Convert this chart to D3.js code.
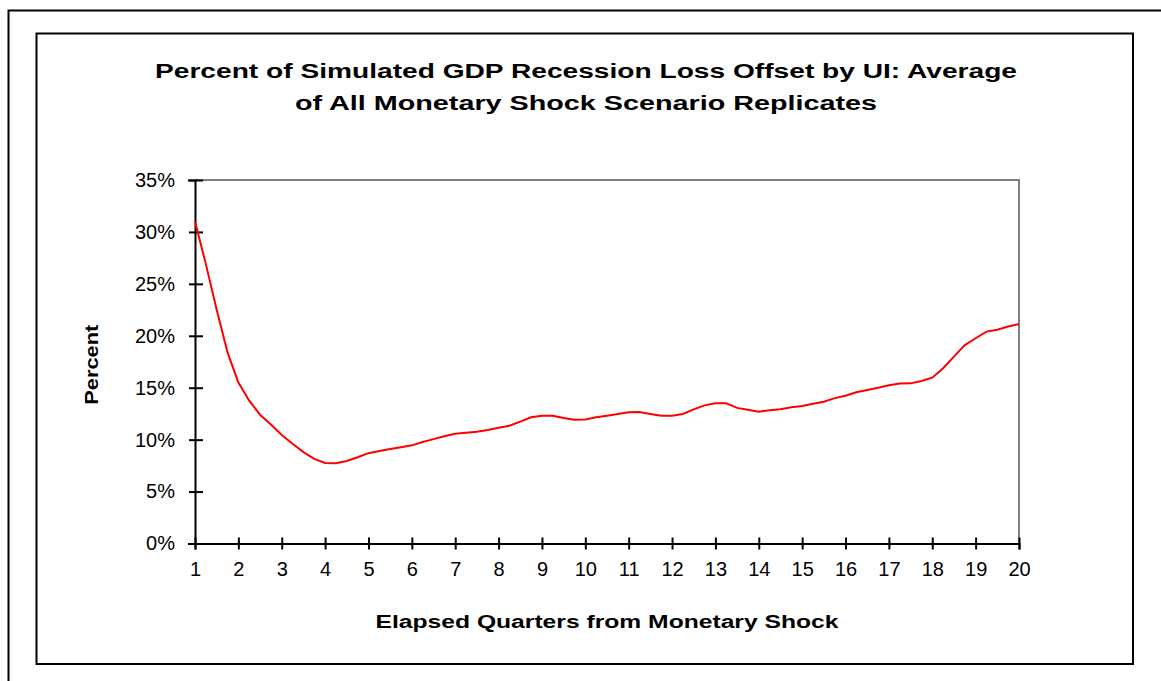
<!DOCTYPE html>
<html>
<head>
<meta charset="utf-8">
<script src="https://cdn.jsdelivr.net/npm/d3@7"></script>
<style>
  body { margin: 0; background: #fff; }
  text { font-family: 'Liberation Sans', Arial, sans-serif; fill: #000; }
</style>
</head>
<body>
<div id="chart"></div>
<script>
// quarters sampled every 0.25 from 1 to 20
const quarters = d3.range(1, 20.001, 0.25)
const offsetPct = [
  31.0, 26.9, 22.5, 18.4, 15.5, 13.75, 12.4, 11.45, 10.45, 9.6,
  8.8, 8.15, 7.75, 7.72, 7.95, 8.3, 8.7, 8.9, 9.1, 9.27,
  9.45, 9.78, 10.05, 10.32, 10.57, 10.67, 10.77, 10.93, 11.15, 11.34,
  11.73, 12.15, 12.3, 12.3, 12.08, 11.92, 11.95, 12.15, 12.3, 12.47,
  12.63, 12.66, 12.47, 12.3, 12.3, 12.47, 12.92, 13.3, 13.5, 13.5,
  13.06, 12.88, 12.69, 12.82, 12.92, 13.11, 13.25, 13.46, 13.65, 14.0,
  14.23, 14.56, 14.78, 15.0, 15.23, 15.4, 15.42, 15.65, 15.97, 16.87,
  18.0, 19.1, 19.76, 20.4, 20.58, 20.9, 21.13
]
const xTicks = d3.range(1, 21)
const yTicks = [0, 5, 10, 15, 20, 25, 30, 35]
const titleLines = [
  'Percent of Simulated GDP Recession Loss Offset by UI: Average',
  'of All Monetary Shock Scenario Replicates'
]

const width = 1161
const height = 681
const plot = { left: 195, right: 1019, top: 180, bottom: 543.5 }

const svg = d3
  .select('#chart')
  .append('svg')
  .attr('width', width)
  .attr('height', height)

// outer frame (top and left edges only visible)
svg.append('path')
  .attr('d', 'M8.5,681 V10.5 H1161')
  .attr('fill', 'none')
  .attr('stroke', '#000')
  .attr('stroke-width', 2)

// inner chart frame
svg.append('rect')
  .attr('x', 36.5)
  .attr('y', 33.5)
  .attr('width', 1133 - 36.5)
  .attr('height', 664 - 33.5)
  .attr('fill', '#fff')
  .attr('stroke', '#000')
  .attr('stroke-width', 2)

const xScale = d3.scaleLinear().domain([1, 20]).range([plot.left, plot.right])
const yScale = d3.scaleLinear().domain([0, 35]).range([plot.bottom, plot.top])

// grey plot border on top and right
svg.append('path')
  .attr('d', `M${plot.left},${plot.top} H${plot.right} V${plot.bottom}`)
  .attr('fill', 'none')
  .attr('stroke', '#808080')
  .attr('stroke-width', 2)

// title (glyphs are stretched wide in the original)
svg.selectAll('.title')
  .data(titleLines)
  .enter()
  .append('text')
  .attr('class', 'title')
  .attr('x', 586)
  .attr('y', (d, i) => 78 + i * 32)
  .attr('text-anchor', 'middle')
  .attr('font-size', 20)
  .attr('font-weight', 'bold')
  .attr('textLength', (d, i) => (i === 0 ? 862 : 582))
  .attr('lengthAdjust', 'spacingAndGlyphs')
  .text(d => d)

// y axis
const yAxis = d3.axisLeft(yScale)
  .tickValues(yTicks)
  .tickFormat(d => d + '%')
  .tickSize(7)
  .tickPadding(13)
const yG = svg.append('g')
  .attr('transform', `translate(${plot.left},0)`)
  .call(yAxis)
yG.select('.domain').attr('stroke', '#000').attr('stroke-width', 2)
yG.selectAll('.tick line').attr('x1', -6).attr('x2', 8).attr('stroke-width', 2)
yG.selectAll('.tick text')
  .attr('font-size', 20)
  .attr('font-family', "'Liberation Sans', Arial, sans-serif")
  .attr('fill', '#000')

// x axis
const xAxis = d3.axisBottom(xScale)
  .tickValues(xTicks)
  .tickFormat(d3.format('d'))
  .tickSize(6)
  .tickPadding(12)
const xG = svg.append('g')
  .attr('transform', `translate(0,${plot.bottom})`)
  .call(xAxis)
xG.select('.domain').attr('stroke', '#000').attr('stroke-width', 2)
xG.selectAll('.tick line').attr('y1', -6).attr('y2', 6).attr('stroke-width', 2)
xG.selectAll('.tick text')
  .attr('font-size', 20)
  .attr('font-family', "'Liberation Sans', Arial, sans-serif")
  .attr('fill', '#000')

// axis titles
svg.append('text')
  .attr('x', (plot.left + plot.right) / 2)
  .attr('y', 628)
  .attr('text-anchor', 'middle')
  .attr('font-size', 18)
  .attr('font-weight', 'bold')
  .attr('textLength', 463)
  .attr('lengthAdjust', 'spacingAndGlyphs')
  .text('Elapsed Quarters from Monetary Shock')

svg.append('text')
  .attr('transform', `translate(98,${(plot.top + plot.bottom) / 2 + 3}) rotate(-90)`)
  .attr('text-anchor', 'middle')
  .attr('font-size', 18)
  .attr('font-weight', 'bold')
  .attr('textLength', 80)
  .attr('lengthAdjust', 'spacingAndGlyphs')
  .text('Percent')

// the line
const line = d3.line()
  .x((d, i) => xScale(quarters[i]))
  .y(d => yScale(d))

svg.append('path')
  .datum(offsetPct)
  .attr('d', line)
  .attr('fill', 'none')
  .attr('stroke', '#ff0000')
  .attr('stroke-width', 2)
</script>
</body>
</html>
